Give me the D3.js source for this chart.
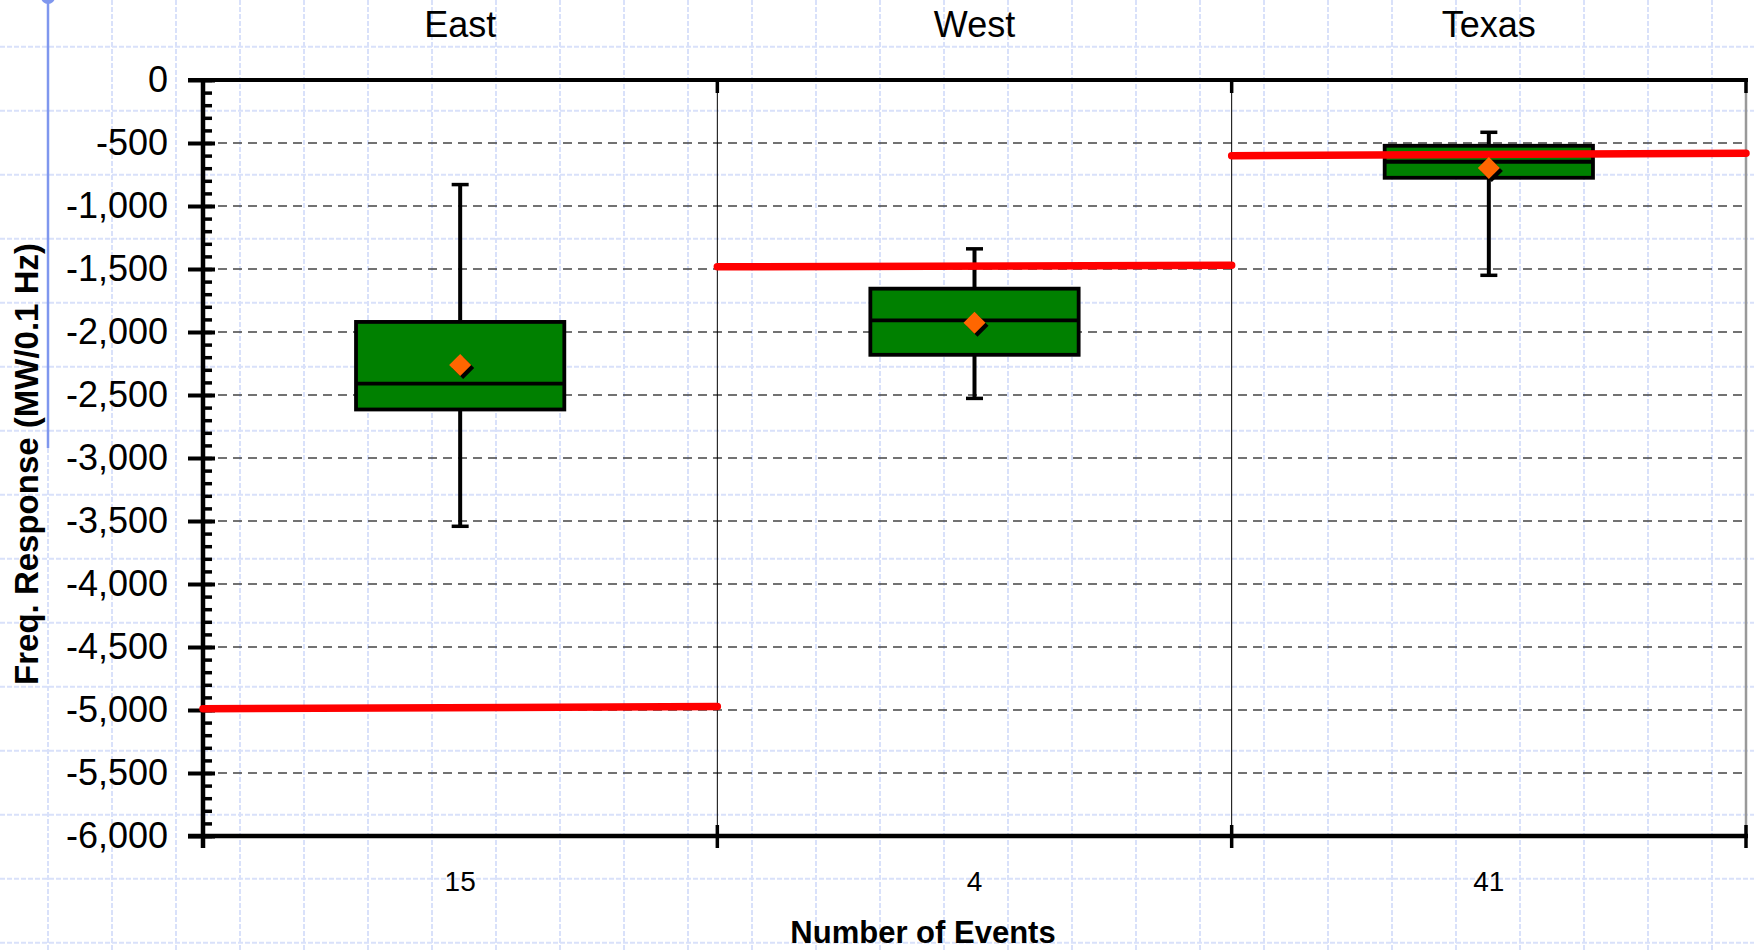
<!DOCTYPE html>
<html>
<head>
<meta charset="utf-8">
<script src="https://cdn.jsdelivr.net/npm/d3@7"></script>
<style>
  body { margin: 0; background: #fff; }
  svg { display: block; font-family: "Liberation Sans", Arial, sans-serif; }
</style>
</head>
<body>
<div id="chart"></div>
<script>
// data
const regions = ['East', 'West', 'Texas'];
const eventCounts = ['15', '4', '41'];
const whiskerHigh = [-830, -1340, -415];
const q3 = [-1920, -1656, -522];
const median = [-2410, -1907, -649];
const mean = [-2262, -1927, -699];
const q1 = [-2615, -2181, -776];
const whiskerLow = [-3542, -2527, -1550];
const refStart = [-4990, -1483, -601];   // red line, left end
const refEnd = [-4972, -1470, -582];     // red line, right end
const yTicks = [0, -500, -1000, -1500, -2000, -2500, -3000, -3500, -4000, -4500, -5000, -5500, -6000];

const W = 1754, H = 952;
const plot = { left: 203, right: 1746, top: 80, bottom: 836 };

const svg = d3.select('#chart').append('svg')
    .attr('width', W)
    .attr('height', H);

svg.append('rect').attr('width', W).attr('height', H).attr('fill', '#fff');

// graph paper behind the chart
const paper = svg.append('g')
    .attr('stroke', '#d9e1fa')
    .attr('stroke-width', 2)
    .attr('stroke-dasharray', '5,2');
d3.range(48, W, 64).forEach(x => {
    paper.append('line').attr('x1', x).attr('x2', x).attr('y1', 0).attr('y2', H);
});
d3.range(46.7, H, 64).forEach(y => {
    paper.append('line').attr('x1', 0).attr('x2', W).attr('y1', y).attr('y2', y);
});

// blue slide guide on the left
svg.append('line')
    .attr('x1', 48).attr('x2', 48).attr('y1', 0).attr('y2', 448)
    .attr('stroke', '#7f97ee').attr('stroke-width', 2.5);
svg.append('circle').attr('cx', 48).attr('cy', -3).attr('r', 7).attr('fill', '#7f97ee');

const y = d3.scaleLinear().domain([-6000, 0]).range([plot.bottom, plot.top]);
const x = d3.scaleBand().domain(regions).range([plot.left, plot.right]);
const fmt = d3.formatLocale({ decimal: '.', thousands: ',', grouping: [3], currency: ['', ''], minus: '-' }).format(',');

// dashed horizontal gridlines
svg.append('g')
    .selectAll('line')
    .data(yTicks.filter(d => d !== 0 && d !== -6000))
    .join('line')
    .attr('x1', plot.left).attr('x2', plot.right)
    .attr('y1', d => y(d)).attr('y2', d => y(d))
    .attr('stroke', '#444').attr('stroke-width', 1.3)
    .attr('stroke-dasharray', '9,6');

// thin dividers between regions
const edges = regions.slice(1).map(r => x(r));
svg.append('g')
    .selectAll('line')
    .data(edges)
    .join('line')
    .attr('x1', d => d).attr('x2', d => d)
    .attr('y1', plot.top).attr('y2', plot.bottom)
    .attr('stroke', '#000').attr('stroke-width', 1);

// right border
svg.append('line')
    .attr('x1', plot.right).attr('x2', plot.right)
    .attr('y1', plot.top).attr('y2', plot.bottom)
    .attr('stroke', '#999').attr('stroke-width', 2.5);

// minor ticks every 100
const minor = svg.append('g')
    .attr('transform', `translate(${plot.left},0)`)
    .call(d3.axisRight(y).tickValues(d3.range(0, -6001, -100)).tickSize(9).tickFormat(''));
minor.select('.domain').remove();
minor.selectAll('line').attr('stroke', '#000').attr('stroke-width', 3.5);

// y axis with major ticks and labels
const yAxis = svg.append('g')
    .attr('transform', `translate(${plot.left},0)`)
    .call(d3.axisLeft(y).tickValues(yTicks).tickSize(15).tickPadding(20).tickFormat(fmt));
yAxis.select('.domain').remove();
yAxis.selectAll('line').attr('x1', 12).attr('stroke', '#000').attr('stroke-width', 4);
yAxis.selectAll('text')
    .attr('font-size', 36)
    .attr('fill', '#000')
    .attr('font-family', '"Liberation Sans", Arial, sans-serif');
svg.append('line')
    .attr('x1', plot.left).attr('x2', plot.left)
    .attr('y1', plot.top - 2).attr('y2', plot.bottom + 12)
    .attr('stroke', '#000').attr('stroke-width', 4.5);

// top and bottom axis lines
const bandEdges = edges.concat([plot.right]);
svg.append('line')
    .attr('x1', 188).attr('x2', plot.right + 2)
    .attr('y1', plot.top).attr('y2', plot.top)
    .attr('stroke', '#000').attr('stroke-width', 4);
svg.append('g').selectAll('line').data(bandEdges).join('line')
    .attr('x1', d => d).attr('x2', d => d)
    .attr('y1', plot.top).attr('y2', plot.top + 13)
    .attr('stroke', '#000').attr('stroke-width', 3.5);

const xAxis = svg.append('g')
    .attr('transform', `translate(0,${plot.bottom})`)
    .call(d3.axisBottom(x).tickSize(0).tickPadding(35).tickFormat((d, i) => eventCounts[i]));
xAxis.select('.domain').remove();
xAxis.selectAll('text')
    .attr('font-size', 28)
    .attr('fill', '#000')
    .attr('font-family', '"Liberation Sans", Arial, sans-serif');
svg.append('line')
    .attr('x1', 188).attr('x2', plot.right + 2)
    .attr('y1', plot.bottom).attr('y2', plot.bottom)
    .attr('stroke', '#000').attr('stroke-width', 4.5);
svg.append('g').selectAll('line').data(bandEdges).join('line')
    .attr('x1', d => d).attr('x2', d => d)
    .attr('y1', plot.bottom - 11).attr('y2', plot.bottom + 12)
    .attr('stroke', '#000').attr('stroke-width', 3.5);

// region headers
svg.append('g').selectAll('text').data(regions).join('text')
    .attr('x', d => x(d) + x.bandwidth() / 2)
    .attr('y', 37)
    .attr('text-anchor', 'middle')
    .attr('font-size', 36)
    .text(d => d);

// box plots
const boxW = x.bandwidth() * 0.405;
const capW = 17;
const boxes = svg.append('g').selectAll('g').data(regions).join('g')
    .attr('transform', d => `translate(${x(d) + x.bandwidth() / 2},0)`);

boxes.append('line')
    .attr('y1', (d, i) => y(whiskerHigh[i])).attr('y2', (d, i) => y(q3[i]))
    .attr('stroke', '#000').attr('stroke-width', 4);
boxes.append('line')
    .attr('y1', (d, i) => y(q1[i])).attr('y2', (d, i) => y(whiskerLow[i]))
    .attr('stroke', '#000').attr('stroke-width', 4);
boxes.append('line')
    .attr('x1', -capW / 2).attr('x2', capW / 2)
    .attr('y1', (d, i) => y(whiskerHigh[i])).attr('y2', (d, i) => y(whiskerHigh[i]))
    .attr('stroke', '#000').attr('stroke-width', 3.5);
boxes.append('line')
    .attr('x1', -capW / 2).attr('x2', capW / 2)
    .attr('y1', (d, i) => y(whiskerLow[i])).attr('y2', (d, i) => y(whiskerLow[i]))
    .attr('stroke', '#000').attr('stroke-width', 3.5);
boxes.append('rect')
    .attr('x', -boxW / 2).attr('width', boxW)
    .attr('y', (d, i) => y(q3[i]))
    .attr('height', (d, i) => y(q1[i]) - y(q3[i]))
    .attr('fill', '#008000').attr('stroke', '#000').attr('stroke-width', 3.8);
boxes.append('line')
    .attr('x1', -boxW / 2).attr('x2', boxW / 2)
    .attr('y1', (d, i) => y(median[i])).attr('y2', (d, i) => y(median[i]))
    .attr('stroke', '#000').attr('stroke-width', 3.8);

// red reference lines, one per region
svg.append('g').selectAll('line').data(regions).join('line')
    .attr('x1', d => x(d)).attr('x2', d => x(d) + x.bandwidth())
    .attr('y1', (d, i) => y(refStart[i])).attr('y2', (d, i) => y(refEnd[i]))
    .attr('stroke', '#ff0000').attr('stroke-width', 7.5).attr('stroke-linecap', 'round');

// mean diamonds with a dark shadow
const diamond = d3.symbol(d3.symbolDiamond2, 310);
const means = svg.append('g').selectAll('g').data(regions).join('g')
    .attr('transform', (d, i) => `translate(${x(d) + x.bandwidth() / 2},${y(mean[i])})`);
means.append('path').attr('d', diamond).attr('transform', 'translate(3,3)').attr('fill', '#000');
means.append('path').attr('d', diamond).attr('fill', '#ff6600');

// axis titles
svg.append('text')
    .attr('x', 923).attr('y', 943)
    .attr('text-anchor', 'middle')
    .attr('font-size', 31).attr('font-weight', 'bold')
    .text('Number of Events');
svg.append('text')
    .attr('transform', 'translate(38,464) rotate(-90)')
    .attr('text-anchor', 'middle')
    .attr('font-size', 33).attr('font-weight', 'bold')
    .text('Freq. Response (MW/0.1 Hz)');
</script>
</body>
</html>
